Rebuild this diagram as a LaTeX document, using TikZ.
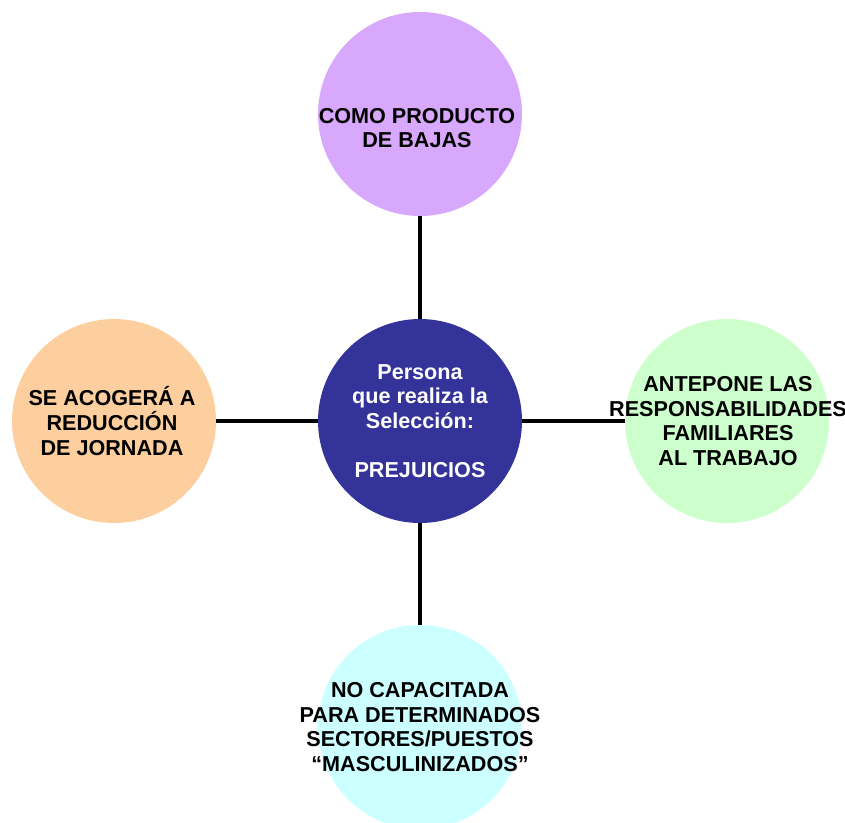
\documentclass[tikz,border=0pt]{standalone}
\usepackage{fontspec}
\setmainfont{Liberation Sans}
\definecolor{selblue}{RGB}{51,51,153}
\definecolor{bajaslila}{RGB}{216,168,252}
\definecolor{familiagreen}{RGB}{204,255,204}
\definecolor{puestocyan}{RGB}{204,255,255}
\definecolor{jornadapeach}{RGB}{253,206,158}

\begin{document}
\begin{tikzpicture}[x=0.75pt,y=-0.75pt,idea/.style={shape=circle,minimum size=153pt,inner sep=0pt},txt/.style={align=center,font=\fontsize{16.2}{18.4}\selectfont\bfseries},link/.style={line width=2.6pt}]
\def\cx{420};
\def\cy{421};
\def\dd{307};

\useasboundingbox (0,0) rectangle (845,822);

\node[idea,fill=selblue] (sel) at (\cx,\cy) {};
\node[idea,fill=bajaslila] (bajas) at (\cx,\cy-\dd) {};
\node[idea,fill=jornadapeach] (jornada) at (\cx-\dd+1,\cy) {};
\node[idea,fill=familiagreen] (familia) at (\cx+\dd,\cy) {};
\node[idea,fill=puestocyan] (puesto) at (\cx,\cy+\dd-1) {};

\draw[link] (bajas) -- (sel);
\draw[link] (jornada) -- (sel);
\draw[link] (sel) -- (familia);
\draw[link] (sel) -- (puesto);

\node[txt,white] (selT) at (sel.center) {Persona\\que realiza la\\Selección:\\[18.4pt]PREJUICIOS};
\node[txt] (bajasT) at (\cx-3,\cy-\dd+14) {COMO PRODUCTO\\DE BAJAS};
\node[txt] (jornadaT) at (\cx-\dd-1,\cy) {SE ACOGERÁ A\\REDUCCIÓN\\DE JORNADA};
\node[txt] (familiaT) at (\cx+\dd+1,\cy) {ANTEPONE LAS\\RESPONSABILIDADES\\FAMILIARES\\AL TRABAJO};
\node[txt] (puestoT) at (puesto.center) {NO CAPACITADA\\PARA DETERMINADOS\\SECTORES/PUESTOS\\“MASCULINIZADOS”};
\end{tikzpicture}
\end{document}
